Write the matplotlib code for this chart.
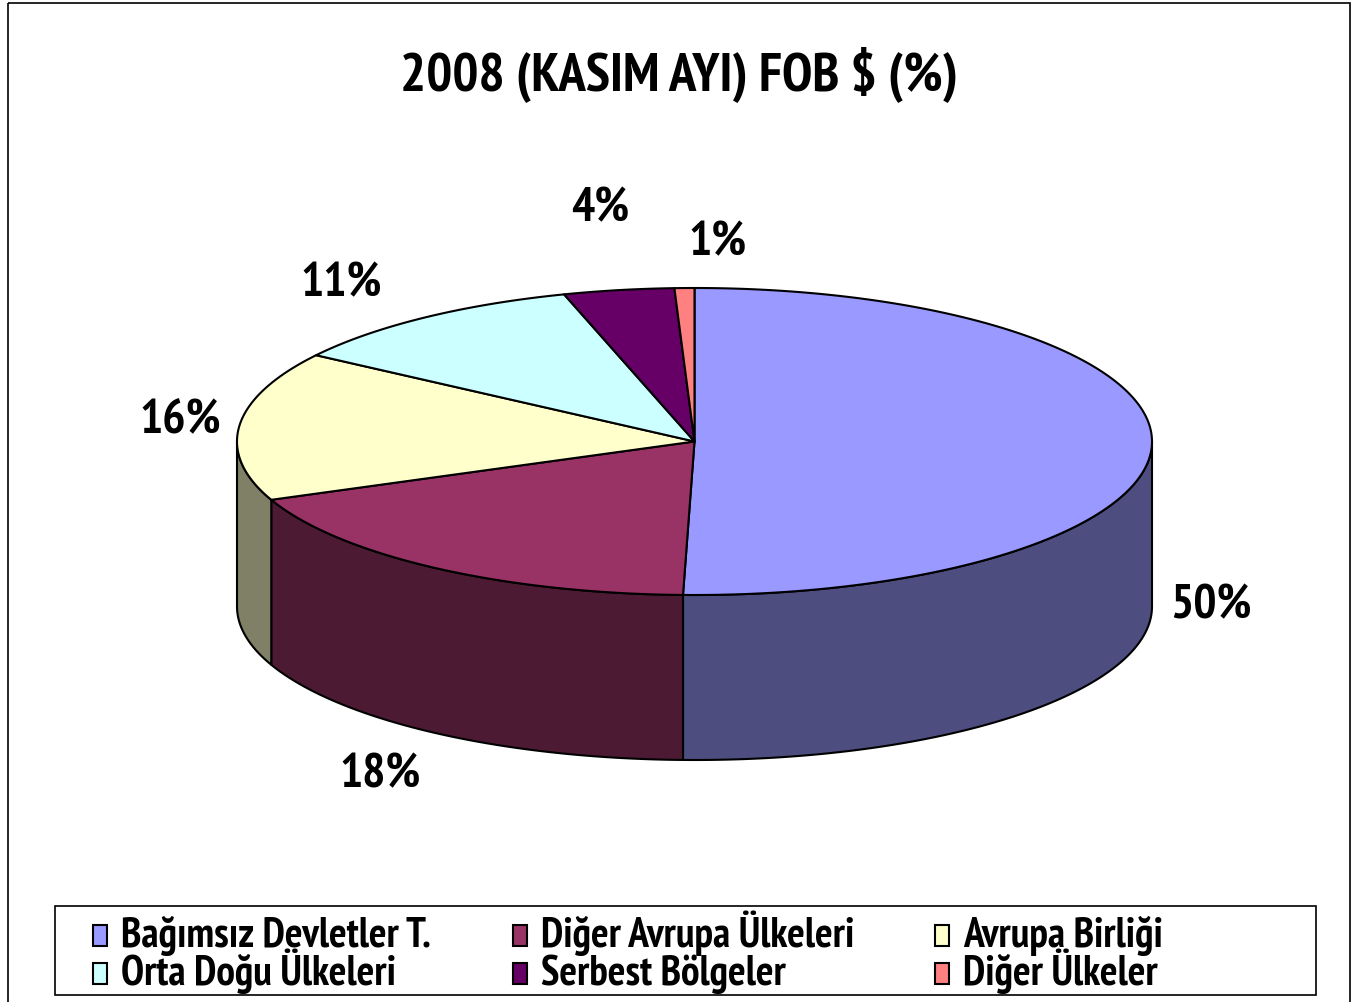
import numpy as np
import matplotlib
matplotlib.use("Agg")
import matplotlib.pyplot as plt
from matplotlib.patches import Polygon, Rectangle
from matplotlib import font_manager

# ---------------- data ----------------
categories = ["Bağımsız Devletler T.", "Diğer Avrupa Ülkeleri", "Avrupa Birliği",
              "Orta Doğu Ülkeleri", "Serbest Bölgeler", "Diğer Ülkeler"]
values = [50.4, 18.4, 15.7, 10.9, 3.9, 0.7]
top_colors = ["#9999FF", "#993366", "#FFFFCC", "#CCFFFF", "#660066", "#FF8080"]
title = "2008 (KASIM AYI) FOB $ (%)"

# ---------------- layout ----------------
W, H = 1360, 1002
CX, CY = 694.5, 441.5      # centre of top ellipse (pixels)
A, B = 457.5, 153.5        # ellipse radii
DEPTH = 165                # thickness of the pie
# label anchor positions (pixels, text centres)
LABEL_POS = [(1211, 606), (380, 775), (180, 421), (341, 284), (600, 209), (718, 243)]

avail = {}
for f in font_manager.fontManager.ttflist:
    avail.setdefault(f.name, set()).add(f.weight)
FAM = "Liberation Sans"
for cand in ["Liberation Sans Narrow", "Arial Narrow", "PT Sans Narrow", "Roboto Condensed",
             "Pragati Narrow", "Asap Condensed", "Barlow Semi Condensed"]:
    if cand in avail and any((w == 700 or w == "bold") for w in avail[cand]):
        FAM = cand
        break
plt.rcParams["font.family"] = [FAM, "DejaVu Sans"]

fig = plt.figure(figsize=(W / 100, H / 100), dpi=100)
ax = fig.add_axes([0, 0, 1, 1])
ax.set_xlim(0, W)
ax.set_ylim(H, 0)
ax.axis("off")

LW = 1.5


def ell(t_deg, dy=0.0):
    t = np.radians(t_deg)
    return CX + A * np.sin(t), CY - B * np.cos(t) + dy


def darker(c, f=0.5):
    r, g, b = matplotlib.colors.to_rgb(c)
    return (r * f, g * f, b * f)


total = float(sum(values))
bounds = np.concatenate([[0], np.cumsum(values) / total * 360.0])

# side walls (visible front half: 90..270 degrees)
for i in range(len(values)):
    lo, hi = max(bounds[i], 90.0), min(bounds[i + 1], 270.0)
    if hi <= lo:
        continue
    ts = np.linspace(lo, hi, 200)
    xs, ys = ell(ts)
    xb, yb = ell(ts[::-1], DEPTH)
    pts = np.column_stack([np.concatenate([xs, xb]), np.concatenate([ys, yb])])
    ax.add_patch(Polygon(pts, closed=True, facecolor=darker(top_colors[i]),
                         edgecolor="black", linewidth=LW, joinstyle="round", zorder=2))

# top faces
for i in range(len(values)):
    ts = np.linspace(bounds[i], bounds[i + 1], 300)
    xs, ys = ell(ts)
    pts = np.column_stack([np.concatenate([[CX], xs]), np.concatenate([[CY], ys])])
    ax.add_patch(Polygon(pts, closed=True, facecolor=top_colors[i],
                         edgecolor="black", linewidth=LW, joinstyle="round", zorder=3))

# percentage labels
for v, (lx, ly) in zip(values, LABEL_POS):
    ax.text(lx, ly, f"{v:.0f}%", ha="center", va="center", fontsize=35,
            fontweight="bold", color="black", zorder=5)

# title
ax.text(W / 2 - 1, 75, title, ha="center", va="center", fontsize=39.5,
        fontweight="bold", color="black", zorder=5)

# outer frame
ax.add_patch(Rectangle((8, 3), 1342, 1030, fill=False, edgecolor="black",
                       linewidth=1.2, zorder=1))

# legend box
ax.add_patch(Rectangle((55, 906), 1261, 89, facecolor="white", edgecolor="black",
                       linewidth=1.2, zorder=4))
col_x = [93, 513, 935]
row_base = [947, 985]
for i, (name, c) in enumerate(zip(categories, top_colors)):
    r, col = divmod(i, 3)
    x0, yb = col_x[col], row_base[r]
    ax.add_patch(Rectangle((x0, yb - 22), 14, 21, facecolor=c, edgecolor="black",
                           linewidth=1.5, zorder=5))
    ax.text(x0 + 28, yb, name, ha="left", va="baseline", fontsize=30,
            fontweight="bold", color="black", zorder=5)

fig.savefig("out.png", dpi=100)
